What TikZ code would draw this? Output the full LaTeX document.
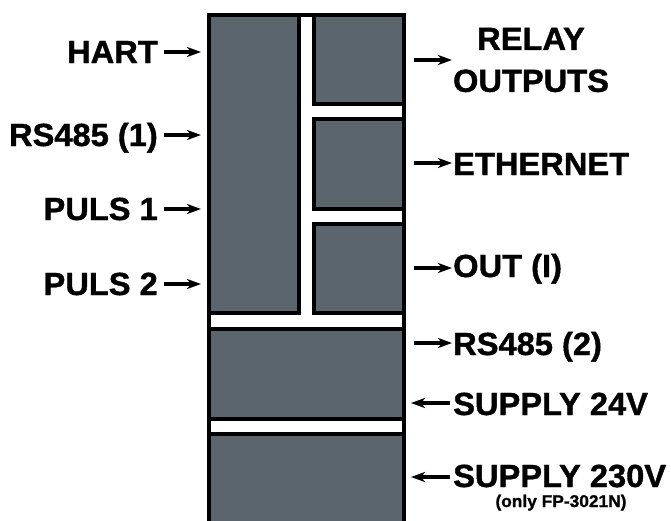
\documentclass[tikz,border=0pt]{standalone}
\usepackage{fontspec}
\setmainfont{Liberation Sans}[BoldFeatures={FakeBold=1.2,FakeStretch=1.02}]
\usetikzlibrary{arrows.meta}
\definecolor{panelgray}{RGB}{90,101,110}
\tikzset{
  panel/.style={fill=panelgray,draw=black,line width=4pt},
  frame/.style={draw=black,line width=4pt},
  lbl/.style={inner sep=0pt,font=\fontsize{32}{42}\selectfont\bfseries},
  small/.style={inner sep=0pt,font=\fontsize{17}{20}\selectfont\bfseries},
  arr/.style={line width=3.2pt,-{Stealth[length=14pt,width=10pt,inset=4pt]}}
}
\begin{document}
\begin{tikzpicture}[x=1pt,y=-1pt]
\useasboundingbox (0,0) rectangle (671,520);
% housing
\begin{scope}
\clip (0,0) rectangle (671,520);
\draw[frame] (209,15) rectangle (404,530);
\draw[panel] (209,15) rectangle (299,313);
\draw[panel] (314,15) rectangle (404,104);
\draw[panel] (314,119) rectangle (404,209);
\draw[panel] (314,224) rectangle (404,313);
\draw[panel] (209,329) rectangle (404,419);
\draw[panel] (209,434) rectangle (404,530);
\end{scope}
% left labels
\node[lbl,anchor=base east] (hart) at (158,63) {HART};
\node[lbl,anchor=base east] (rsone) at (158,146) {RS485 (1)};
\node[lbl,anchor=base east] (pulsone) at (158,220) {PULS 1};
\node[lbl,anchor=base east] (pulstwo) at (158,295) {PULS 2};
\coordinate (hartS) at (164,52);   \coordinate (hartE) at (201,52);
\coordinate (rsoneS) at (164,135); \coordinate (rsoneE) at (201,135);
\coordinate (p1S) at (164,209);    \coordinate (p1E) at (201,209);
\coordinate (p2S) at (164,284);    \coordinate (p2E) at (201,284);
\draw[arr] (hartS) -- (hartE);
\draw[arr] (rsoneS) -- (rsoneE);
\draw[arr] (p1S) -- (p1E);
\draw[arr] (p2S) -- (p2E);
% right labels
\node[lbl,align=center,anchor=center] (relay) at (531,60) {RELAY\\OUTPUTS};
\node[lbl,anchor=base west] (eth) at (453,175) {ETHERNET};
\node[lbl,anchor=base west] (out) at (453,277) {OUT (I)};
\node[lbl,anchor=base west] (rstwo) at (453,355) {RS485 (2)};
\node[lbl,anchor=base west] (sup24) at (453,415) {SUPPLY 24V};
\node[lbl,anchor=base west] (sup230) at (453,487) {SUPPLY 230V};
\node[small,anchor=base] (only) at (561,507) {(only FP-3021N)};
\coordinate (relS) at (414,60);  \coordinate (relE) at (452,60);
\coordinate (ethS) at (414,163); \coordinate (ethE) at (452,163);
\coordinate (outS) at (414,268); \coordinate (outE) at (452,268);
\coordinate (rs2S) at (414,343); \coordinate (rs2E) at (452,343);
\coordinate (s24S) at (450,403); \coordinate (s24E) at (411,403);
\coordinate (s230S) at (450,477); \coordinate (s230E) at (411,477);
\draw[arr] (relS) -- (relE);
\draw[arr] (ethS) -- (ethE);
\draw[arr] (outS) -- (outE);
\draw[arr] (rs2S) -- (rs2E);
\draw[arr] (s24S) -- (s24E);
\draw[arr] (s230S) -- (s230E);
\end{tikzpicture}
\end{document}
